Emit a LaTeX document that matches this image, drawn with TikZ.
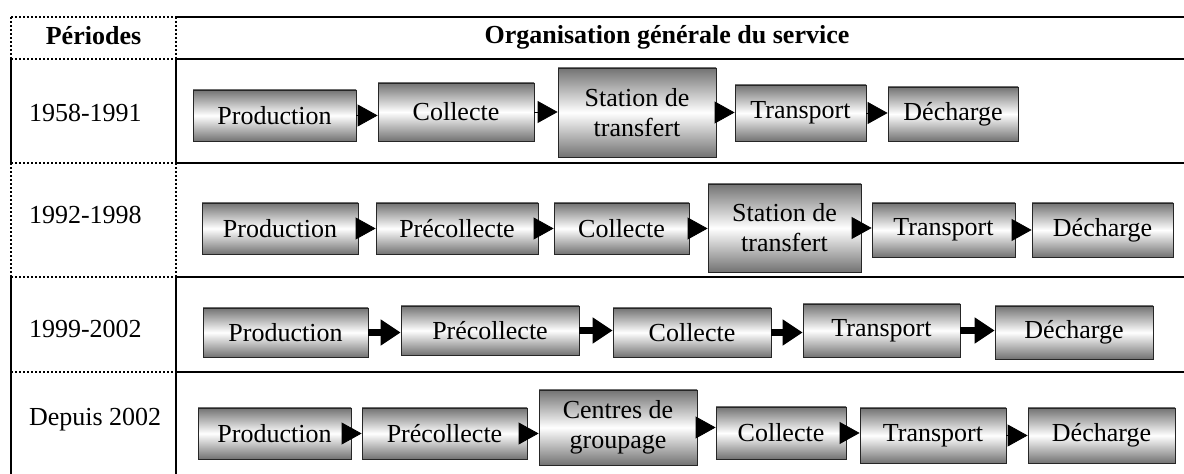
\documentclass[tikz,border=0pt]{standalone}
\usepackage{fontspec}
\setmainfont{Liberation Serif}
\usetikzlibrary{arrows.meta}
\begin{document}
\begin{tikzpicture}[x=0.5pt,y=-0.5pt,font=\fontsize{13}{15}\selectfont,
  etape/.style={draw=black!85,top color=black!55,bottom color=black!55,middle color=white,inner sep=1pt,align=center},
  fl/.style={-{Triangle[length=10pt,width=11pt]}},
  flg/.style={line width=3.5pt,-{Triangle[length=10pt,width=12.5pt]}},
  trait/.style={line width=1.2pt},
  pointille/.style={line width=1.2pt,dash pattern=on 1.2pt off 0.8pt}]
\useasboundingbox (0,0) rectangle (1184,474);

% grille du tableau
\foreach \y in {17,59,163,277,372} {
\draw[trait] (176,\y) -- (1184,\y);
\draw[pointille] (11,\y) -- (176,\y);
}
\foreach \x in {11,176} {
\draw[pointille] (\x,17) -- (\x,59) (\x,163) -- (\x,277);
\draw[trait] (\x,59) -- (\x,163) (\x,277) -- (\x,474);
}

% en-tetes et periodes
\node[font=\fontsize{13}{15}\selectfont\bfseries] (hper) at (93.5,36) {Périodes};
\node[font=\fontsize{13}{15}\selectfont\bfseries] (horg) at (667,37) {Organisation générale du service};
\node[anchor=west] (per1) at (22,113) {1958-1991};
\node[anchor=west] (per2) at (22,215) {1992-1998};
\node[anchor=west] (per3) at (22,329) {1999-2002};
\node[anchor=west] (per4) at (22,420) {Depuis 2002};

% 1958-1991
\node[etape,minimum width=81.5pt,minimum height=25.5pt] (prod1) at (274.5,115.5) {Production};
\node[etape,minimum width=78pt,minimum height=29pt] (coll1) at (456,112) {Collecte};
\node[etape,minimum width=79pt,minimum height=44.5pt] (stat1) at (637,112.5) {Station de\\transfert};
\node[etape,minimum width=65.5pt,minimum height=28pt] (trans1) at (800.5,113) {Transport};
\node[etape,minimum width=65pt,minimum height=27pt] (dech1) at (953,114) {Décharge};
\foreach \a/\b in {prod1/coll1,coll1/stat1,stat1/trans1,trans1/dech1}
\draw[fl] (\a.east) -- (\a.east -| \b.west);

% 1992-1998
\node[etape,minimum width=78pt,minimum height=25.5pt] (prod2) at (280,228.5) {Production};
\node[etape,minimum width=81pt,minimum height=25.5pt] (prec2) at (457,228.5) {Précollecte};
\node[etape,minimum width=67.5pt,minimum height=25.5pt] (coll2) at (621.5,228.5) {Collecte};
\node[etape,minimum width=76.5pt,minimum height=44pt] (stat2) at (784.5,228) {Station de\\transfert};
\node[etape,minimum width=71.5pt,minimum height=27pt] (trans2) at (943.5,230) {Transport};
\node[etape,minimum width=70.5pt,minimum height=27pt] (dech2) at (1102.5,230) {Décharge};
\foreach \a/\b in {prod2/prec2,prec2/coll2,coll2/stat2,stat2/trans2,trans2/dech2}
\draw[fl] (\a.east) -- (\a.east -| \b.west);

% 1999-2002
\node[etape,minimum width=82.5pt,minimum height=24.5pt] (prod3) at (285.5,332.5) {Production};
\node[etape,minimum width=89pt,minimum height=24.5pt] (prec3) at (490,330.5) {Précollecte};
\node[etape,minimum width=79pt,minimum height=24.5pt] (coll3) at (692,332.5) {Collecte};
\node[etape,minimum width=78.5pt,minimum height=26.5pt] (trans3) at (881.5,330.5) {Transport};
\node[etape,minimum width=79pt,minimum height=26.5pt] (dech3) at (1074,332.5) {Décharge};
\foreach \a/\b in {prod3/prec3,prec3/coll3,coll3/trans3,trans3/dech3}
\draw[flg] (\a.east) -- (\a.east -| \b.west);

% depuis 2002
\node[etape,minimum width=76.5pt,minimum height=25.5pt] (prod4) at (274.5,433.5) {Production};
\node[etape,minimum width=82.5pt,minimum height=25.5pt] (prec4) at (444.5,433.5) {Précollecte};
\node[etape,minimum width=79pt,minimum height=37.5pt] (cent4) at (618,427.5) {Centres de\\groupage};
\node[etape,minimum width=65pt,minimum height=26pt] (coll4) at (781,433) {Collecte};
\node[etape,minimum width=73pt,minimum height=27.5pt] (trans4) at (933,435.5) {Transport};
\node[etape,minimum width=73.5pt,minimum height=27.5pt] (dech4) at (1101.5,435.5) {Décharge};
\foreach \a/\b in {prod4/prec4,prec4/cent4,cent4/coll4,coll4/trans4,trans4/dech4}
\draw[fl] (\a.east) -- (\a.east -| \b.west);
\end{tikzpicture}
\end{document}
